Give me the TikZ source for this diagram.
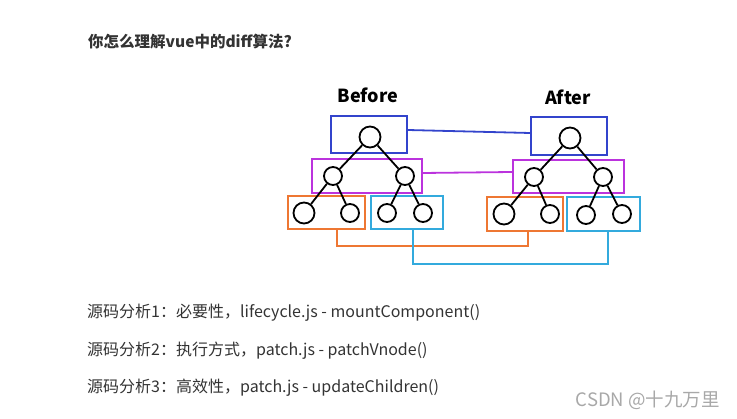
\documentclass[tikz,border=0pt]{standalone}
\usepackage{fontspec}
\setmainfont{Noto Sans CJK SC}
\usetikzlibrary{calc}
\definecolor{bluebox}{HTML}{3344CC}
\definecolor{purplebox}{HTML}{BB33DD}
\definecolor{orangebox}{HTML}{EE7733}
\definecolor{cyanbox}{HTML}{33AADD}
\definecolor{bodytext}{HTML}{333333}
\definecolor{marktext}{HTML}{A8A8A8}
\tikzset{
  vnode/.style={circle,draw,line width=1.8pt,inner sep=0pt,minimum size=18pt},
  bignode/.style={vnode,minimum size=21pt},
  levelbox/.style={draw,line width=1.8pt,inner sep=0pt,rectangle},
  line/.style={text=bodytext,anchor=west,font=\fontsize{16}{19}\selectfont}
}
\begin{document}
\begin{tikzpicture}[x=1pt,y=-1pt,line width=1.8pt]
            \useasboundingbox (0,0) rectangle (737,419);
            % text
            \node[anchor=west,text=bodytext,font=\fontsize{15.5}{18}\bfseries] (title) at (84,42) {你怎么理解vue中的diff算法?};
            \node[line] (s1) at (83,313) {源码分析1：必要性，lifecycle.js - mountComponent()};
            \node[line] (s2) at (83,351) {源码分析2：执行方式，patch.js - patchVnode()};
            \node[line] (s3) at (83,388) {源码分析3：高效性，patch.js - updateChildren()};
            \node[anchor=east,text=marktext,font=\fontsize{18.5}{21}\selectfont] (mark) at (724,400) {CSDN @十九万里};
            \node[font=\fontsize{18}{20}\bfseries] (before) at (368,95) {Before};
            \node[font=\fontsize{18}{20}\bfseries] (after) at (568,97) {After};
            % level boxes
            \node[levelbox,bluebox,minimum width=76pt,minimum height=37pt] (bb) at (369,134.5) {};
            \node[levelbox,bluebox,minimum width=76pt,minimum height=38pt] (ba) at (569,136) {};
            \node[levelbox,purplebox,minimum width=110pt,minimum height=34pt] (pb) at (367,176) {};
            \node[levelbox,purplebox,minimum width=111pt,minimum height=33pt] (pa) at (568.5,176.5) {};
            \node[levelbox,orangebox,minimum width=77pt,minimum height=33pt] (ob) at (326.5,212.5) {};
            \node[levelbox,cyanbox,minimum width=72pt,minimum height=33pt] (cb) at (407,212.5) {};
            \node[levelbox,orangebox,minimum width=76pt,minimum height=34pt] (oa) at (525,214) {};
            \node[levelbox,cyanbox,minimum width=73pt,minimum height=34pt] (ca) at (603.5,214) {};
            % before tree
            \node[bignode] (r1) at (370,137) {};
            \node[vnode] (a1) at (333,176) {};
            \node[vnode] (b1) at (405,176) {};
            \node[bignode] (c1) at (304,213) {};
            \node[vnode] (d1) at (350,213) {};
            \node[vnode] (e1) at (387,213) {};
            \node[vnode] (f1) at (423,213) {};
            \draw (a1)--(r1)--(b1);
            \draw (c1)--(a1)--(d1);
            \draw (e1)--(b1)--(f1);
            % after tree
            \node[bignode] (r2) at (570,138) {};
            \node[vnode] (a2) at (534,177) {};
            \node[vnode] (b2) at (603,177) {};
            \node[bignode] (c2) at (504,214) {};
            \node[vnode] (d2) at (550,214) {};
            \node[vnode] (e2) at (586,215) {};
            \node[vnode] (f2) at (622,214) {};
            \draw (a2)--(r2)--(b2);
            \draw (c2)--(a2)--(d2);
            \draw (e2)--(b2)--(f2);
            % same level links
            \draw[bluebox] ([yshift=4.5pt]bb.east)--([yshift=3pt]ba.west);
            \draw[purplebox] ([yshift=3pt]pb.east)--([yshift=4.5pt]pa.west);
            \draw[orangebox] ([xshift=10.5pt]ob.south)--++(0,16)-|([xshift=3pt]oa.south);
            \draw[cyanbox] ([xshift=6pt]cb.south)--++(0,34)-|([xshift=4.5pt]ca.south);
        \end{tikzpicture}
\end{document}
